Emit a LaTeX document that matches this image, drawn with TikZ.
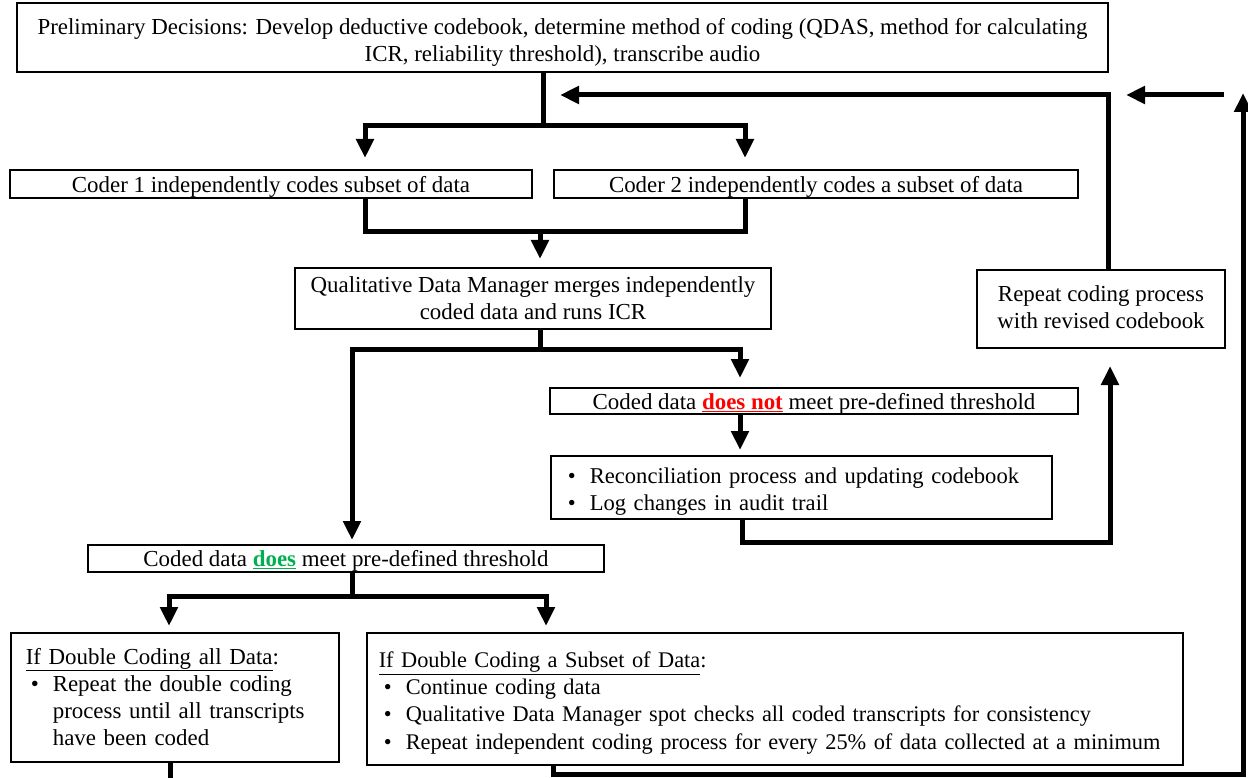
\documentclass[tikz,border=0pt]{standalone}
\usepackage{fontspec}
\setmainfont{Liberation Serif}
\usetikzlibrary{arrows.meta}
\definecolor{nored}{HTML}{FF0000}
\definecolor{yesgreen}{HTML}{00B050}
\newcommand{\bul}{\hspace*{5pt}\makebox[22pt][l]{\textbullet}}
\newcommand{\ind}{\hspace*{27pt}}
\newcommand{\topstrut}[1]{\rule{0pt}{#1}}
\newcommand{\botstrut}{\rule[-5pt]{0pt}{5pt}}
\begin{document}
\begin{tikzpicture}[x=1pt,y=-1pt,
  font=\fontsize{22.9}{27.2}\selectfont,
  box/.style={draw, line width=1.6pt, inner sep=0pt, align=center},
  sbox/.style={box, text height=21.5pt, text depth=5pt},
  lbox/.style={draw, line width=1.6pt, align=left, inner ysep=0pt, anchor=west},
  conn/.style={line width=5pt, line join=miter},
  arr/.style={conn, -{Triangle[width=17pt,length=19pt]}}]
\useasboundingbox (0,0) rectangle (1248,778);

% boxes
\node[box, minimum width=1091pt, minimum height=69pt] (top) at (562.5,37.5)
  {\topstrut{25.6pt}Preliminary Decisions: Develop deductive codebook, determine method of coding (QDAS, method for calculating\\ICR, reliability threshold), transcribe audio\botstrut};
\node[sbox, minimum width=522pt, minimum height=28pt] (c1) at (271,184)
  {Coder 1 independently codes subset of data};
\node[sbox, minimum width=524pt, minimum height=28pt] (c2) at (816,184)
  {Coder 2 independently codes a subset of data};
\node[box, minimum width=476pt, minimum height=61pt] (qdm) at (533,298.5)
  {\topstrut{19.7pt}Qualitative Data Manager merges independently\\coded data and runs ICR\botstrut};
\node[box, minimum width=248pt, minimum height=78pt] (rep) at (1101,309)
  {\topstrut{17.5pt}Repeat coding process\\with revised codebook\botstrut};
\node[sbox, minimum width=528pt, minimum height=26pt] (no) at (814,401)
  {Coded data \textcolor{nored}{\textbf{\underline{does not}}} meet pre-defined threshold};
\node[lbox, inner xsep=12pt, text width=477pt, minimum height=63pt,
  font=\fontsize{22.6}{27.2}\selectfont] (rec) at (550,487.5)
  {\topstrut{23.7pt}\bul Reconciliation process and updating codebook\\\bul Log changes in audit trail\botstrut};
\node[sbox, minimum width=516pt, minimum height=27pt] (yes) at (346,558.5)
  {Coded data \textcolor{yesgreen}{\textbf{\underline{does}}} meet pre-defined threshold};
\node[lbox, inner xsep=15pt, text width=298pt, minimum height=129pt] (all) at (10,697.5)
  {\topstrut{19.7pt}\underline{If Double Coding all Data}:\\\bul Repeat the double coding\\\ind process until all transcripts\\\ind have been coded\botstrut};
\node[lbox, inner xsep=12pt, text width=792pt, minimum height=132pt,
  font=\fontsize{22.35}{27.2}\selectfont] (sub) at (366,699)
  {\topstrut{23.7pt}\underline{If Double Coding a Subset of Data}:\\\bul Continue coding data\\\bul Qualitative Data Manager spot checks all coded transcripts for consistency\\\bul Repeat independent coding process for every 25\% of data collected at a minimum\botstrut};

% junction coordinates
\coordinate (j1) at (543,126);
\coordinate (t1) at (365,158);
\coordinate (t2) at (745,158);
\coordinate (m1) at (365,232);
\coordinate (m2) at (745,232);
\coordinate (j2) at (540,232);
\coordinate (t3) at (540,259);
\coordinate (j3) at (540,349);
\coordinate (t4) at (740,378);
\coordinate (t5) at (352,540);
\coordinate (t6) at (740,450);
\coordinate (k1) at (742,542);
\coordinate (k2) at (1110,542);
\coordinate (t7) at (1110,366);
\coordinate (k3) at (1108,95);
\coordinate (t8) at (560,95);
\coordinate (s1) at (1224,95);
\coordinate (s2) at (1126,95);
\coordinate (j4) at (352,596);
\coordinate (t10) at (169,626);
\coordinate (t11) at (546,626);
\coordinate (b0) at (170,780);
\coordinate (b1) at (553,774);
\coordinate (b2) at (1243,774);
\coordinate (t9) at (1243,93);

% connectors
\draw[conn] (top.south -| j1) -- (j1);
\draw[arr] (j1) -| (t1);
\draw[arr] (j1) -| (t2);
\draw[conn] (c1.south -| m1) -- (m1) -- (m2) -- (c2.south -| m2);
\draw[arr] (j2) -- (t3);
\draw[conn] (qdm.south -| j3) -- (j3);
\draw[arr] (j3) -| (t4);
\draw[arr] (j3) -| (t5);
\draw[arr] (no.south -| t6) -- (t6);
\draw[arr] (rec.south -| k1) -- (k1) -- (k2) -- (t7);
\draw[arr] (rep.north -| k3) -- (k3) -- (t8);
\draw[arr] (s1) -- (s2);
\draw[conn] (yes.south -| j4) -- (j4);
\draw[arr] (j4) -| (t10);
\draw[arr] (j4) -| (t11);
\draw[conn] (all.south -| b0) -- (b0);
\draw[arr] (sub.south -| b1) -- (b1) -- (b2) -- (t9);
\end{tikzpicture}
\end{document}
